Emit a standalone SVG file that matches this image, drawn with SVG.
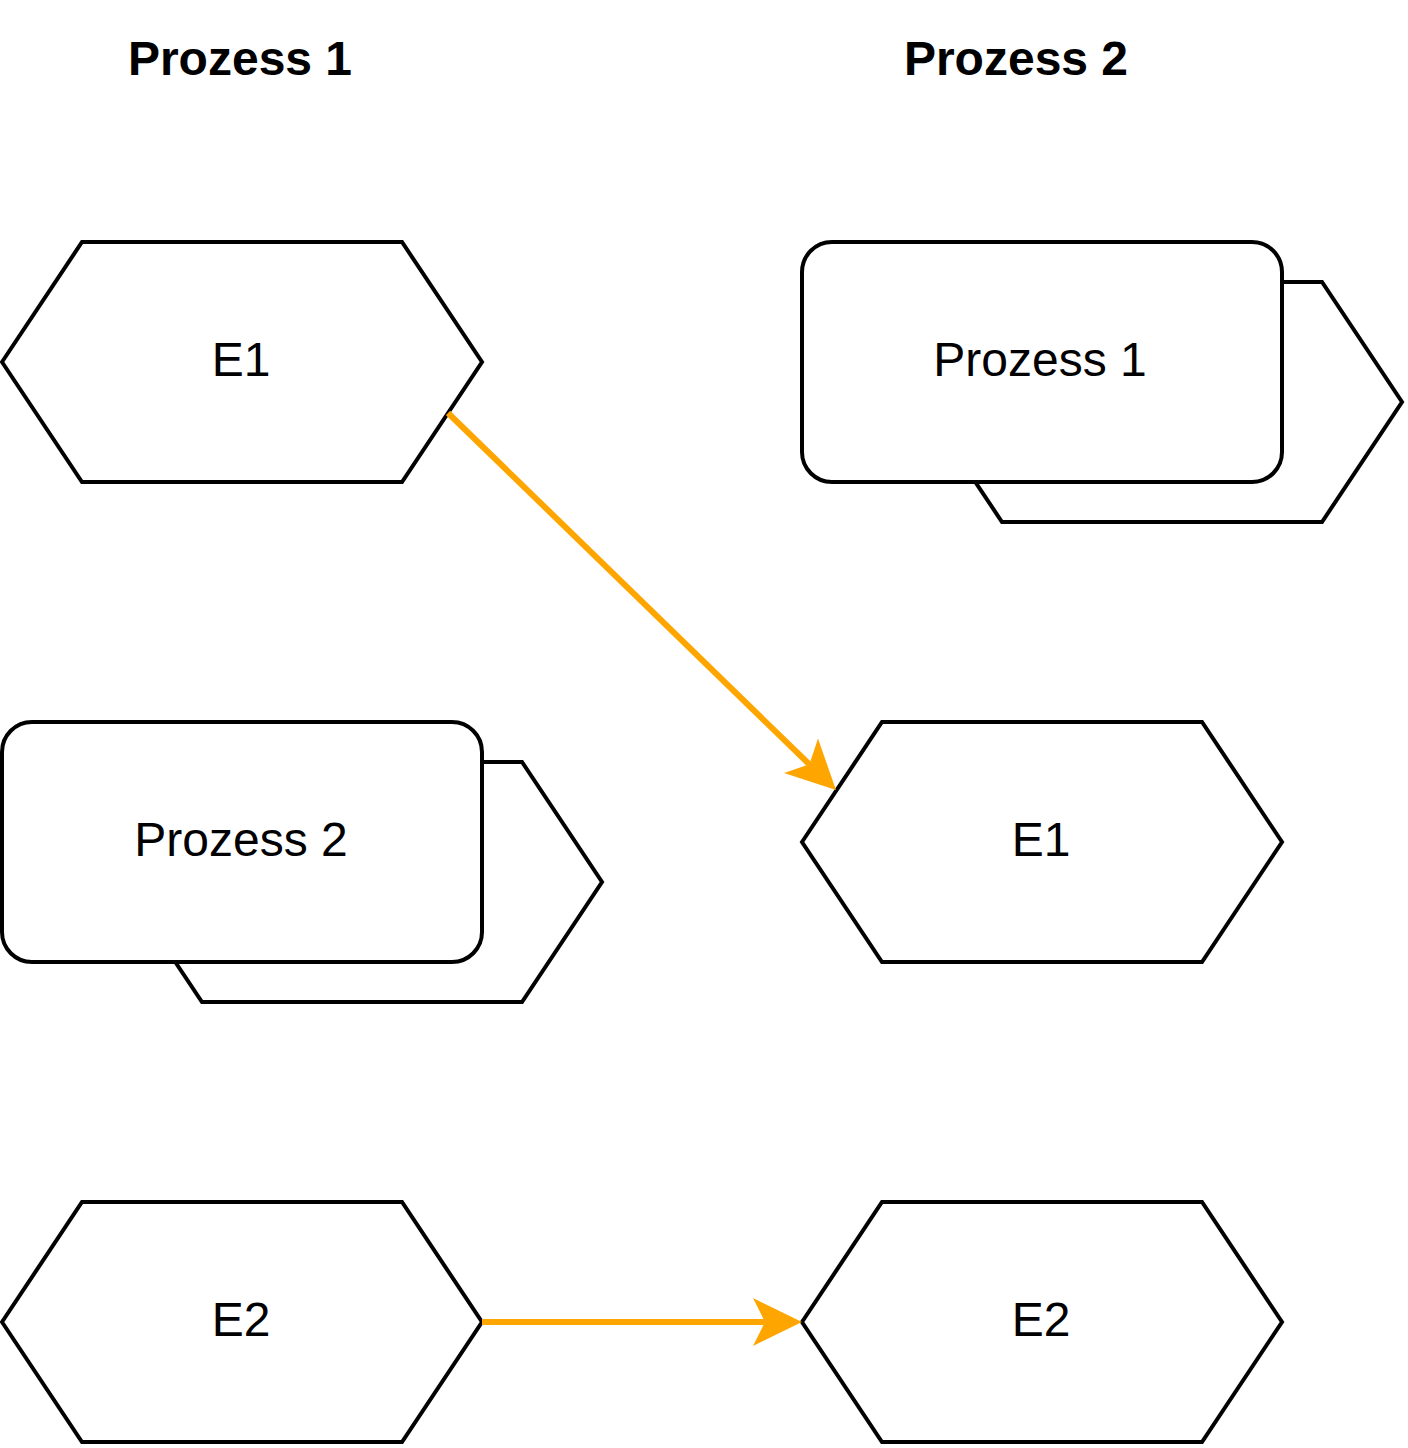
<svg xmlns="http://www.w3.org/2000/svg" width="1408" height="1448" viewBox="0 0 1408 1448">
<style>
.s{fill:#fff;stroke:#000;stroke-width:4;stroke-linejoin:miter}
.t{font-family:"Liberation Sans",Arial,sans-serif;font-size:48px;text-anchor:middle;fill:#000}
.h{font-weight:bold}
.e{fill:none;stroke:#FFA500;stroke-width:6}
.a{fill:#FFA500;stroke:none}
</style>
<rect width="1408" height="1448" fill="#fff"/>
<g id="title1"><text class="t h" x="240" y="75">Prozess 1</text></g>
<g id="title2"><text class="t h" x="1016" y="75">Prozess 2</text></g>
<g id="e1-left"><polygon class="s" points="2,362 82,242 402,242 482,362 402,482 82,482"/><text class="t" x="241" y="376">E1</text></g>
<g id="p2-left"><polygon class="s" points="122,882 202,762 522,762 602,882 522,1002 202,1002"/><rect class="s" x="2" y="722" width="480" height="240" rx="30"/><text class="t" x="241" y="856">Prozess 2</text></g>
<g id="e2-left"><polygon class="s" points="2,1322 82,1202 402,1202 482,1322 402,1442 82,1442"/><text class="t" x="241" y="1336">E2</text></g>
<g id="p1-right"><polygon class="s" points="922,402 1002,282 1322,282 1402,402 1322,522 1002,522"/><rect class="s" x="802" y="242" width="480" height="240" rx="30"/><text class="t" x="1040" y="376">Prozess 1</text></g>
<g id="e1-right"><polygon class="s" points="802,842 882,722 1202,722 1282,842 1202,962 882,962"/><text class="t" x="1041" y="856">E1</text></g>
<g id="e2-right"><polygon class="s" points="802,1322 882,1202 1202,1202 1282,1322 1202,1442 882,1442"/><text class="t" x="1041" y="1336">E2</text></g>
<g id="connectors">
<line class="e" x1="448" y1="413" x2="810" y2="765"/>
<polygon class="a" points="836,790 784,773 809.5,764.2 818,738.6"/>
<line class="e" x1="482" y1="1322" x2="766" y2="1322"/>
<polygon class="a" points="802,1322 753,1298 765,1322 753,1346"/>
</g>
</svg>
